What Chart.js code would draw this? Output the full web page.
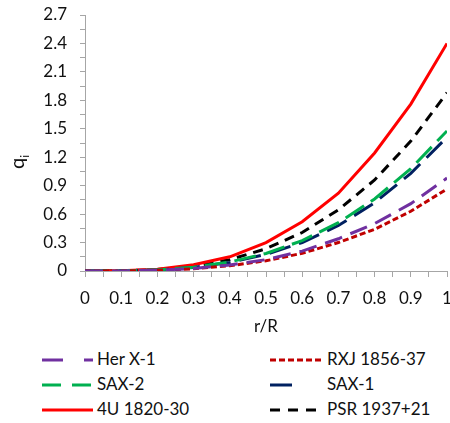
<!DOCTYPE html>
<html>
<head>
<meta charset="utf-8">
<script src="https://cdn.jsdelivr.net/npm/chart.js@4/dist/chart.umd.min.js"></script>
<style>
  html, body { margin:0; padding:0; background:#fff; }
  #wrap { position:relative; width:450px; height:423px; font-family: Lato, "Liberation Sans", sans-serif; }
  #box { position:absolute; left:0; top:0; width:450px; height:340px; }
  #ytitle { position:absolute; left:4px; top:150px; width:24px; height:24px; font-size:20px; color:#111;
            transform: rotate(-90deg); transform-origin: 50% 50%; line-height:24px; text-align:center; }
  #ytitle sub { font-size:12px; }
  .leg { position:absolute; font-size:17px; color:#111; line-height:20px; white-space:nowrap; }
  svg.ls { position:absolute; overflow:visible; }
</style>
</head>
<body>
<div id="wrap">
  <div id="box"><canvas id="c" width="450" height="340"></canvas></div>
  <div id="ytitle">q<sub>i</sub></div>
  <div id="legend"></div>
</div>
<script>
// ---- data ----
const rOverR = [0, 0.1, 0.2, 0.3, 0.4, 0.5, 0.6, 0.7, 0.8, 0.9, 1.0];
const herX1   = [0, 0.001, 0.008, 0.026, 0.063, 0.12, 0.21, 0.34, 0.50, 0.71, 0.98];
const rxj     = [0, 0.001, 0.007, 0.023, 0.055, 0.108, 0.187, 0.30, 0.44, 0.63, 0.865];
const sax2    = [0, 0.0015, 0.012, 0.04, 0.095, 0.185, 0.32, 0.51, 0.76, 1.08, 1.477];
const sax1    = [0, 0.0014, 0.011, 0.038, 0.09, 0.175, 0.30, 0.48, 0.72, 1.03, 1.41];
const u4      = [0, 0.0024, 0.019, 0.065, 0.15, 0.30, 0.52, 0.82, 1.245, 1.76, 2.4];
const psr     = [0, 0.002, 0.015, 0.05, 0.12, 0.235, 0.406, 0.645, 0.96, 1.37, 1.88];
const seriesNames = ['Her X-1', 'RXJ 1856-37', 'SAX-2', 'SAX-1', '4U 1820-30', 'PSR 1937+21'];
const xTickLabels = ['0','0.1','0.2','0.3','0.4','0.5','0.6','0.7','0.8','0.9','1'];
const yTickLabels = ['0','0.3','0.6','0.9','1.2','1.5','1.8','2.1','2.4','2.7'];

const styles = [
  {color:'#7030A0', dash:[18,9],  legendDash:'21 21'},
  {color:'#C00000', dash:[6,3],   legendDash:'6 3'},
  {color:'#00B050', dash:[22,8],  legendDash:'19 11'},
  {color:'#002060', dash:[22,9],  legendDash:'22 40'},
  {color:'#FF0000', dash:[],      legendDash:''},
  {color:'#000000', dash:[10,7],  legendDash:'10 8'}
];
const values = [herX1, rxj, sax2, sax1, u4, psr];

const datasets = values.map((arr, i) => ({
  label: seriesNames[i],
  data: arr.map((v, j) => ({x: rOverR[j], y: v})),
  borderColor: styles[i].color,
  backgroundColor: styles[i].color,
  borderWidth: 3,
  borderDash: styles[i].dash,
  pointRadius: 0,
  tension: 0,
  fill: false
}));

const xMajor = xTickLabels.map(Number);
const yMajor = yTickLabels.map(Number);
function withMinor(major) {
  const out = [];
  for (let i = 0; i < major.length; i++) {
    out.push({value: major[i], major: true});
    if (i < major.length - 1) out.push({value: (major[i] + major[i+1]) / 2, major: false});
  }
  return out;
}
const tickFont = {family: 'Lato, "Liberation Sans", sans-serif', size: 17};

new Chart(document.getElementById('c'), {
  type: 'line',
  data: { datasets },
  options: {
    responsive: false,
    animation: false,
    events: [],
    layout: { padding: {top: 15, right: 3, bottom: 0, left: 0} },
    plugins: { legend: {display: false}, tooltip: {enabled: false} },
    scales: {
      x: {
        type: 'linear', min: 0, max: 1,
        afterBuildTicks: s => { s.ticks = withMinor(xMajor); },
        afterFit: s => { s.height = 69; s.paddingRight = 0; s.paddingLeft = 0; },
        ticks: {
          autoSkip: false, maxRotation: 0, minRotation: 0, padding: 11,
          color: '#111', font: tickFont,
          callback: (v, i) => (i % 2 === 0 ? xTickLabels[i/2] : '')
        },
        grid: { drawOnChartArea: false, drawTicks: true, tickLength: 6, color: '#A6A6A6', lineWidth: 1 },
        border: { color: '#A6A6A6', width: 1 },
        title: { display: true, text: 'r/R', color: '#111', font: tickFont, padding: {top: 4, bottom: 3} }
      },
      y: {
        type: 'linear', min: 0, max: 2.7,
        afterBuildTicks: s => { s.ticks = withMinor(yMajor); },
        afterFit: s => { s.width = 85; s.paddingTop = 0; s.paddingBottom = 0; },
        ticks: {
          autoSkip: false, padding: 13, color: '#111', font: tickFont,
          callback: (v, i) => (i % 2 === 0 ? yTickLabels[i/2] : '')
        },
        grid: { drawOnChartArea: false, drawTicks: true, tickLength: 5, color: '#A6A6A6', lineWidth: 1 },
        border: { color: '#A6A6A6', width: 1 }
      }
    }
  }
});

// ---- HTML legend (two columns) ----
const legend = document.getElementById('legend');
const cols = [{lx: 42, tx: 97}, {lx: 270, tx: 327}];
const rowsY = [360, 385, 410];
seriesNames.forEach((name, i) => {
  const col = cols[i % 2], y = rowsY[Math.floor(i / 2)];
  const st = styles[i];
  const svg = document.createElementNS('http://www.w3.org/2000/svg', 'svg');
  svg.setAttribute('class', 'ls');
  svg.setAttribute('width', '52'); svg.setAttribute('height', '6');
  svg.style.left = col.lx + 'px'; svg.style.top = (y - 3) + 'px';
  const ln = document.createElementNS('http://www.w3.org/2000/svg', 'line');
  ln.setAttribute('x1', '0'); ln.setAttribute('y1', '3');
  ln.setAttribute('x2', '51'); ln.setAttribute('y2', '3');
  ln.setAttribute('stroke', st.color); ln.setAttribute('stroke-width', '3');
  if (st.legendDash) ln.setAttribute('stroke-dasharray', st.legendDash);
  svg.appendChild(ln);
  legend.appendChild(svg);
  const t = document.createElement('div');
  t.className = 'leg';
  t.textContent = name;
  t.style.left = col.tx + 'px'; t.style.top = (y - 11) + 'px';
  legend.appendChild(t);
});
</script>
</body>
</html>
